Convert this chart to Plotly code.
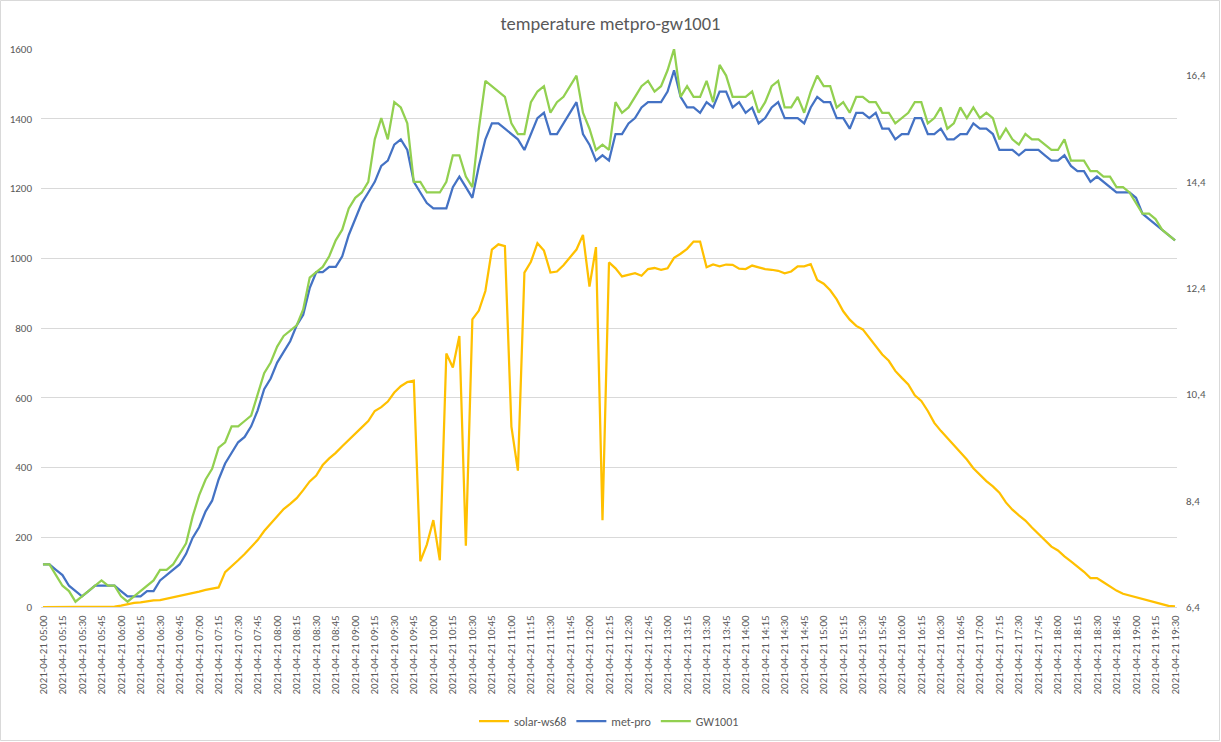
import plotly.graph_objects as go
from datetime import datetime, timedelta

# categories: 5-minute steps from 05:00 to 19:30
start = datetime(2021, 4, 21, 5, 0)
categories = [(start + timedelta(minutes=5 * k)).strftime("%Y-%m-%d %H:%M") for k in range(175)]
tick_labels = categories[::3]

solar_ws68 = [
    0, 0, 0, 0, 0, 0, 0, 0, 0, 0,
    0, 1, 4, 8, 12, 13, 17, 19, 20, 24,
    27, 30, 34, 38, 44, 49, 53, 56, 100, 116,
    134, 152, 171, 192, 218, 239, 262, 281, 296, 312,
    335, 360, 377, 407, 426, 442, 461, 480, 497, 515,
    533, 562, 573, 589, 615, 633, 645, 649, 131, 179,
    249, 134, 727, 687, 777, 176, 825, 850, 906, 1025,
    1040, 1035, 517, 391, 959, 990, 1043, 1022, 959, 962,
    980, 1001, 1025, 1067, 919, 1032, 249, 988, 971, 948,
    953, 957, 950, 969, 972, 967, 971, 1001, 1013, 1027,
    1048, 1048, 974, 982, 977, 982, 981, 970, 969, 979,
    974, 969, 967, 964, 957, 962, 977, 977, 983, 938,
    927, 908, 882, 848, 824, 806, 796, 772, 751, 724,
    706, 677, 657, 638, 607, 591, 562, 528, 505, 484,
    464, 443, 423, 398, 378, 361, 346, 328, 300, 279,
    263, 248, 228, 210, 191, 173, 162, 145, 131, 117,
    101, 83, 83, 71, 59, 47, 38, 33, 27, 21,
    16, 12, 8, 3, 2,
]

met_pro = [
    7.2, 7.2, 7.1, 7.0, 6.8, 6.7, 6.6, 6.7, 6.8, 6.8,
    6.8, 6.8, 6.7, 6.6, 6.6, 6.6, 6.7, 6.7, 6.9, 7.0,
    7.1, 7.2, 7.4, 7.7, 7.9, 8.2, 8.4, 8.8, 9.1, 9.3,
    9.5, 9.6, 9.8, 10.1, 10.5, 10.7, 11.0, 11.2, 11.4, 11.7,
    11.9, 12.4, 12.7, 12.7, 12.8, 12.8, 13.0, 13.4, 13.7, 14.0,
    14.2, 14.4, 14.7, 14.8, 15.1, 15.2, 15.0, 14.4, 14.2, 14.0,
    13.9, 13.9, 13.9, 14.3, 14.5, 14.3, 14.1, 14.7, 15.2, 15.5,
    15.5, 15.4, 15.3, 15.2, 15.0, 15.3, 15.6, 15.7, 15.3, 15.3,
    15.5, 15.7, 15.9, 15.3, 15.1, 14.8, 14.9, 14.8, 15.3, 15.3,
    15.5, 15.6, 15.8, 15.9, 15.9, 15.9, 16.1, 16.5, 16.0, 15.8,
    15.8, 15.7, 15.9, 15.8, 16.1, 16.1, 15.8, 15.9, 15.7, 15.8,
    15.5, 15.6, 15.8, 15.9, 15.6, 15.6, 15.6, 15.5, 15.8, 16.0,
    15.9, 15.9, 15.6, 15.6, 15.4, 15.7, 15.7, 15.6, 15.7, 15.4,
    15.4, 15.2, 15.3, 15.3, 15.6, 15.6, 15.3, 15.3, 15.4, 15.2,
    15.2, 15.3, 15.3, 15.5, 15.4, 15.4, 15.3, 15.0, 15.0, 15.0,
    14.9, 15.0, 15.0, 15.0, 14.9, 14.8, 14.8, 14.9, 14.7, 14.6,
    14.6, 14.4, 14.5, 14.4, 14.3, 14.2, 14.2, 14.2, 14.1, 13.8,
    13.7, 13.6, 13.5, 13.4, 13.3,
]

gw1001 = [
    7.2, 7.2, 7.0, 6.8, 6.7, 6.5, 6.6, 6.7, 6.8, 6.9,
    6.8, 6.8, 6.6, 6.5, 6.6, 6.7, 6.8, 6.9, 7.1, 7.1,
    7.2, 7.4, 7.6, 8.1, 8.5, 8.8, 9.0, 9.4, 9.5, 9.8,
    9.8, 9.9, 10.0, 10.4, 10.8, 11.0, 11.3, 11.5, 11.6, 11.7,
    12.0, 12.6, 12.7, 12.8, 13.0, 13.3, 13.5, 13.9, 14.1, 14.2,
    14.4, 15.2, 15.6, 15.2, 15.9, 15.8, 15.5, 14.4, 14.4, 14.2,
    14.2, 14.2, 14.4, 14.9, 14.9, 14.5, 14.3, 15.4, 16.3, 16.2,
    16.1, 16.0, 15.5, 15.3, 15.3, 15.9, 16.1, 16.2, 15.7, 15.9,
    16.0, 16.2, 16.4, 15.7, 15.4, 15.0, 15.1, 15.0, 15.9, 15.7,
    15.8, 16.0, 16.2, 16.3, 16.1, 16.2, 16.5, 16.9, 16.0, 16.2,
    16.0, 16.0, 16.3, 15.9, 16.6, 16.4, 16.0, 16.0, 16.0, 16.1,
    15.7, 15.9, 16.2, 16.3, 15.8, 15.8, 16.0, 15.7, 16.1, 16.4,
    16.2, 16.2, 15.8, 15.9, 15.7, 16.0, 16.0, 15.9, 15.9, 15.7,
    15.7, 15.5, 15.6, 15.7, 15.9, 15.9, 15.5, 15.6, 15.8, 15.4,
    15.5, 15.8, 15.6, 15.8, 15.6, 15.7, 15.6, 15.2, 15.4, 15.2,
    15.1, 15.3, 15.2, 15.2, 15.1, 15.0, 15.0, 15.2, 14.8, 14.8,
    14.8, 14.6, 14.6, 14.5, 14.5, 14.3, 14.3, 14.2, 14.0, 13.8,
    13.8, 13.7, 13.5, 13.4, 13.3,
]

left_ticks = [0, 200, 400, 600, 800, 1000, 1200, 1400, 1600]
right_ticks = [6.4, 8.4, 10.4, 12.4, 14.4, 16.4]
right_tick_text = ["6,4", "8,4", "10,4", "12,4", "14,4", "16,4"]

W, H = 1221, 742
ML, MR, MT, MB = 41, 44, 49, 135
FONT = "Carlito, Calibri, Liberation Sans, Arial, sans-serif"
GREY = "#595959"
GRID = "#D9D9D9"

fig = go.Figure()
fig.add_trace(go.Scatter(x=categories, y=solar_ws68, name="solar-ws68", mode="lines",
                         line=dict(color="#FFC000", width=2.25), yaxis="y"))
fig.add_trace(go.Scatter(x=categories, y=met_pro, name="met-pro", mode="lines",
                         line=dict(color="#4472C4", width=2.25), yaxis="y2"))
fig.add_trace(go.Scatter(x=categories, y=gw1001, name="GW1001", mode="lines",
                         line=dict(color="#92D050", width=2.25), yaxis="y2"))

pw = W - ML - MR
ph = H - MT - MB
fig.add_shape(type="rect", xref="paper", yref="paper",
              x0=-ML / pw + 0.5 / pw, x1=1 + MR / pw - 1.5 / pw,
              y0=-MB / ph + 1.5 / ph, y1=1 + MT / ph - 0.5 / ph,
              line=dict(color=GRID, width=1), layer="below")

fig.update_layout(
    width=W, height=H,
    margin=dict(l=ML, r=MR, t=MT, b=MB, autoexpand=False),
    paper_bgcolor="white", plot_bgcolor="white",
    font=dict(family=FONT, color=GREY, size=11),
    title=dict(text="temperature metpro-gw1001", x=0.5, xanchor="center",
               y=1 - 24 / H, yanchor="middle",
               font=dict(family=FONT, size=18.5, color=GREY)),
    showlegend=True,
    legend=dict(orientation="h", x=0.5, xanchor="center", y=-114 / ph, yanchor="middle",
                font=dict(family=FONT, size=12, color=GREY), bgcolor="rgba(0,0,0,0)"),
    xaxis=dict(type="category", range=[-0.3, 174.3], tickmode="array",
               tickvals=tick_labels, ticktext=tick_labels, tickangle=-90,
               showgrid=False, showline=True, linecolor=GRID, linewidth=1,
               ticks="", automargin=False, ticklabelstandoff=3,
               tickfont=dict(family=FONT, size=11, color=GREY)),
    yaxis=dict(range=[0, 1600], tickvals=left_ticks, showgrid=True, gridcolor=GRID,
               gridwidth=1, zeroline=False, showline=False, ticks="", automargin=False,
               ticklabelstandoff=8, tickfont=dict(family=FONT, size=11, color=GREY)),
    yaxis2=dict(range=[6.4, 16.9], overlaying="y", side="right", tickvals=right_ticks,
                ticktext=right_tick_text, showgrid=False, zeroline=False, showline=False,
                ticks="", automargin=False, ticklabelstandoff=8,
                tickfont=dict(family=FONT, size=11, color=GREY)),
    hovermode=False,
)

fig.write_html("out.html", config={"displayModeBar": False},
               post_script="document.body.style.margin='0px';")
